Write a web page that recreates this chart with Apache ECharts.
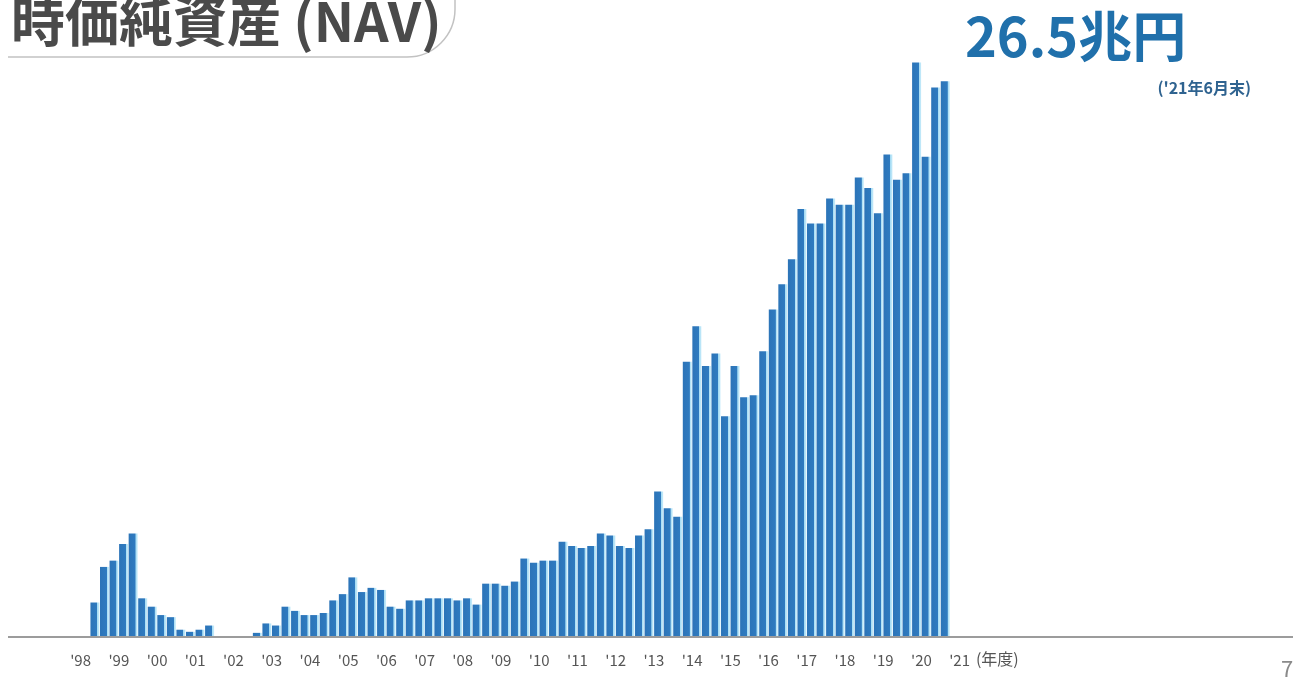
<!DOCTYPE html>
<html>
<head>
<meta charset="utf-8">
<script src="https://cdn.jsdelivr.net/npm/echarts@6/dist/echarts.min.js"></script>
<style>
  html, body { margin: 0; padding: 0; background: #ffffff; }
  #chart { width: 1293px; height: 689px; }
</style>
</head>
<body>
<div id="chart"></div>
<script>
// Fiscal-year labels, one per year (each year holds four quarter-end bars)
const fiscalYears = ["'98", "'99", "'00", "'01", "'02", "'03", "'04", "'05", "'06", "'07", "'08", "'09",
                     "'10", "'11", "'12", "'13", "'14", "'15", "'16", "'17", "'18", "'19", "'20", "'21"];
// Quarter ends inside a fiscal year
const quarterNames = ['6月末', '9月末', '12月末', '3月末'];
// Net asset value at each quarter end, trillion yen (FY98 Q1 ... FY21 Q4); null = not reported
const navValues = [
  null, null, null,
  1.6, 3.3, 3.6, 4.4, 4.9, 1.8, 1.4, 1.0, 0.9, 0.3,
  0.2, 0.3, 0.5, 0, 0, 0, 0, 0.15, 0.6, 0.5,
  1.4, 1.2, 1.0, 1.0, 1.1, 1.7, 2.0, 2.8, 2.1, 2.3,
  2.2, 1.4, 1.3, 1.7, 1.7, 1.8, 1.8, 1.8, 1.7, 1.8,
  1.5, 2.5, 2.5, 2.4, 2.6, 3.7, 3.5, 3.6, 3.6, 4.5,
  4.3, 4.2, 4.3, 4.9, 4.8, 4.3, 4.2, 4.8, 5.1, 6.9,
  6.1, 5.7, 13.1, 14.8, 12.9, 13.5, 10.5, 12.9, 11.4, 11.5,
  13.6, 15.6, 16.8, 18.0, 20.4, 19.7, 19.7, 20.9, 20.6, 20.6,
  21.9, 21.4, 20.2, 23.0, 21.8, 22.1, 27.4, 22.9, 26.2, 26.5,
  null, null, null
];
// Headline figure and its date
const headline = '26.5兆円';
const headlineNote = "('21年6月末)";
const titleText = '時価純資産 (NAV)';
const yearUnit = '(年度)';
const pageNumber = '7';

const quarterCategories = fiscalYears.flatMap(y => quarterNames.map(q => y + ' ' + q));

const JP = '"Noto Sans CJK JP", "Noto Sans", sans-serif';
const chart = echarts.init(document.getElementById('chart'));

chart.setOption({
  animation: false,
  backgroundColor: '#ffffff',
  title: [
    { text: titleText, left: 6, top: -11,
      textStyle: { fontFamily: JP, fontSize: 54, fontWeight: 'bold', color: '#4a4a4a' } },
    { text: headline, left: 960, top: 4,
      textStyle: { fontFamily: JP, fontSize: 54, fontWeight: 'bold', color: '#2070ab' } },
    { text: headlineNote, right: 37, top: 75,
      textStyle: { fontFamily: JP, fontSize: 16, fontWeight: 'bold', color: '#2f6390' } },
    { text: pageNumber, left: 1276, top: 653,
      textStyle: { fontFamily: JP, fontSize: 22, fontWeight: 'normal', color: '#8a8a8a' } }
  ],
  grid: { left: 61.5, right: 314.3, top: 8, bottom: 53, containLabel: false },
  xAxis: [
    {
      type: 'category', data: quarterCategories, position: 'bottom',
      boundaryGap: true,
      axisLine: { show: false }, axisTick: { show: false }, axisLabel: { show: false }
    },
    {
      type: 'category', data: fiscalYears, position: 'bottom',
      boundaryGap: true,
      axisLine: { show: false }, axisTick: { show: false },
      axisLabel: { fontFamily: JP, fontSize: 15, color: '#555555', margin: 17 },
      name: yearUnit, nameLocation: 'end', nameGap: -4,
      nameTextStyle: { fontFamily: JP, fontSize: 16, color: '#555555',
                       verticalAlign: 'top', align: 'left', padding: [15, 0, 0, 0] }
    }
  ],
  yAxis: { type: 'value', min: 0, max: 30, show: false },
  series: [{
    type: 'bar', xAxisIndex: 0, data: navValues,
    barWidth: 9,
    itemStyle: {
      color: new echarts.graphic.LinearGradient(0, 0, 1, 0, [
        { offset: 0, color: '#2c74b8' },
        { offset: 0.74, color: '#2f7bc0' },
        { offset: 0.78, color: '#a6dcf4' },
        { offset: 1, color: '#c9ecfa' }
      ])
    }
  }],
  graphic: [
    // baseline across the slide
    { type: 'line', silent: true, z: 10,
      shape: { x1: 8, y1: 637, x2: 1293, y2: 637 },
      style: { stroke: '#9c9c9c', lineWidth: 2 } },
    // title frame: bottom rule with a rounded right end
    { type: 'line', silent: true,
      shape: { x1: 8, y1: 57, x2: 407, y2: 57 },
      style: { stroke: '#c2c2c2', lineWidth: 1.5 } },
    { type: 'arc', silent: true,
      shape: { cx: 407, cy: 9, r: 48, startAngle: 0, endAngle: Math.PI / 2, clockwise: true },
      style: { stroke: '#c2c2c2', lineWidth: 1.5, fill: null } },
    { type: 'line', silent: true,
      shape: { x1: 455, y1: 9, x2: 455, y2: -5 },
      style: { stroke: '#c2c2c2', lineWidth: 1.5 } }
  ]
});
</script>
</body>
</html>
